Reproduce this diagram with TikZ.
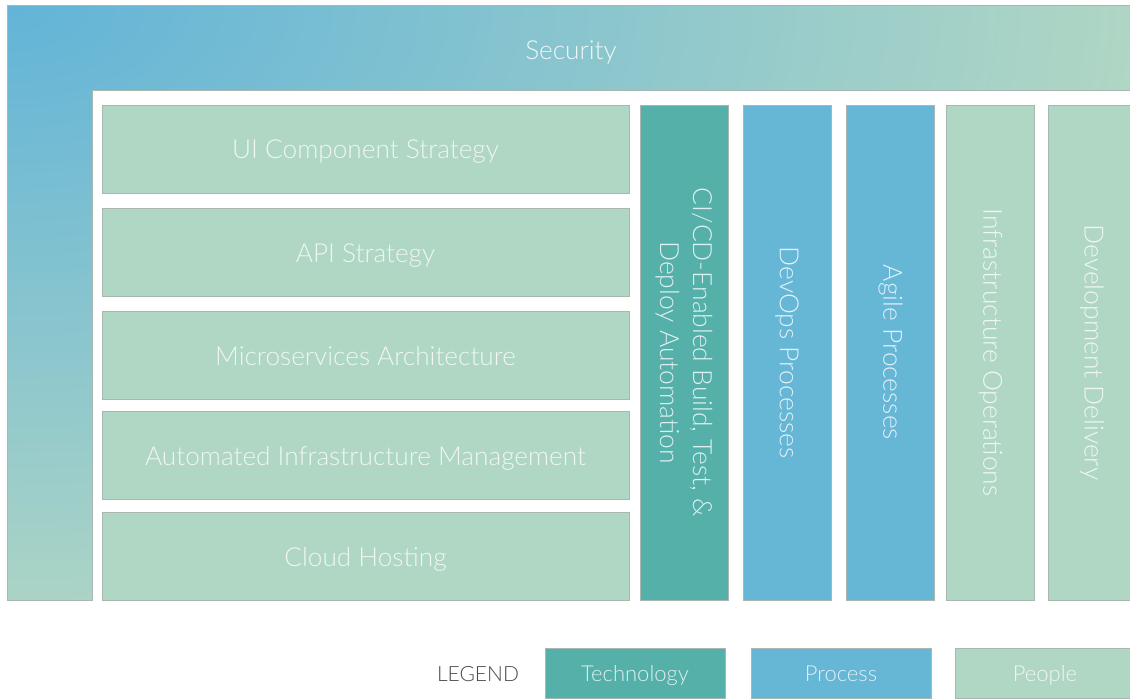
\documentclass[tikz,border=0pt]{standalone}
\usepackage{fontspec}
\setmainfont{Lato Light}

\definecolor{techgreen}{HTML}{55B0AA}
\definecolor{procblue}{HTML}{66B6D6}
\definecolor{peoplegreen}{HTML}{B0D6C4}
\definecolor{secblue}{HTML}{62B4D8}
\definecolor{edgegray}{HTML}{A9B7B2}
\definecolor{legendgray}{HTML}{4A4A4A}

\tikzset{
  box/.style={draw=edgegray, line width=0.4pt, inner sep=0pt, outer sep=0pt,
    text=white, text opacity=0.8, font=\fontsize{13.1}{16}\selectfont,
    text height=9.5pt, text depth=0pt},
  rowbox/.style={box, fill=peoplegreen, minimum width=263.5pt, minimum height=44pt},
  colbox/.style={box, rotate=-90, align=center, minimum width=247.5pt, minimum height=44pt,
    font=\fontsize{13.2}{16.5}\selectfont, text height=, text depth=},
  legbox/.style={box, minimum width=90pt, minimum height=25pt,
    font=\fontsize{11}{13}\selectfont, text height=8pt},
}

\begin{document}
\begin{tikzpicture}[x=0.5pt, y=-0.5pt]

  \useasboundingbox (0,0) rectangle (1130,698);

  % Security frame (L-shaped, shaded from the top left corner)
  \begin{scope}
    \clip (7,5) -- (1130,5) -- (1130,90) -- (92,90) -- (92,600) -- (7,600) -- cycle;
    \fill[peoplegreen] (0,0) rectangle (1130,600);
    \shade[inner color=secblue, outer color=peoplegreen]
      (7,5) ellipse [x radius=565pt, y radius=320pt];
  \end{scope}
  \draw[edgegray, line width=0.4pt]
    (7,5) -- (1130,5) -- (1130,90) -- (92,90) -- (92,600) -- (7,600) -- cycle;
  \node[text=white, text opacity=0.85, font=\fontsize{13.1}{16}\selectfont]
    (security) at (571,52) {Security};

  % Stacked rows
  \node[rowbox] (ui) at (365.5,149) {UI Component Strategy};
  \node[rowbox] (api) at (365.5,252.5) {API Strategy};
  \node[rowbox] (micro) at (365.5,355.5) {Microservices Architecture};
  \node[rowbox] (infra) at (365.5,455.5) {Automated Infrastructure Management};
  \node[rowbox] (cloud) at (365.5,556.5) {Cloud Hosting};

  % Vertical pillars
  \node[colbox, fill=techgreen] (cicd) at (684,352.5)
    {CI/CD-Enabled Build, Test, \&\\Deploy Automation};
  \node[colbox, fill=procblue] (devops) at (787,352.5) {DevOps Processes};
  \node[colbox, fill=procblue] (agile) at (890.5,352.5) {Agile Processes};
  \node[colbox, fill=peoplegreen] (ops) at (990.5,352.5) {Infrastructure Operations};
  \node[colbox, fill=peoplegreen] (delivery) at (1092,352.5) {Development Delivery};

  % Legend
  \node[text=legendgray, font=\fontsize{10.5}{13}\selectfont] (legend) at (478,674) {LEGEND};
  \node[legbox, fill=techgreen] (tech) at (635,673) {Technology};
  \node[legbox, fill=procblue] (proc) at (841,673) {Process};
  \node[legbox, fill=peoplegreen] (people) at (1045,673) {People};

\end{tikzpicture}
\end{document}
